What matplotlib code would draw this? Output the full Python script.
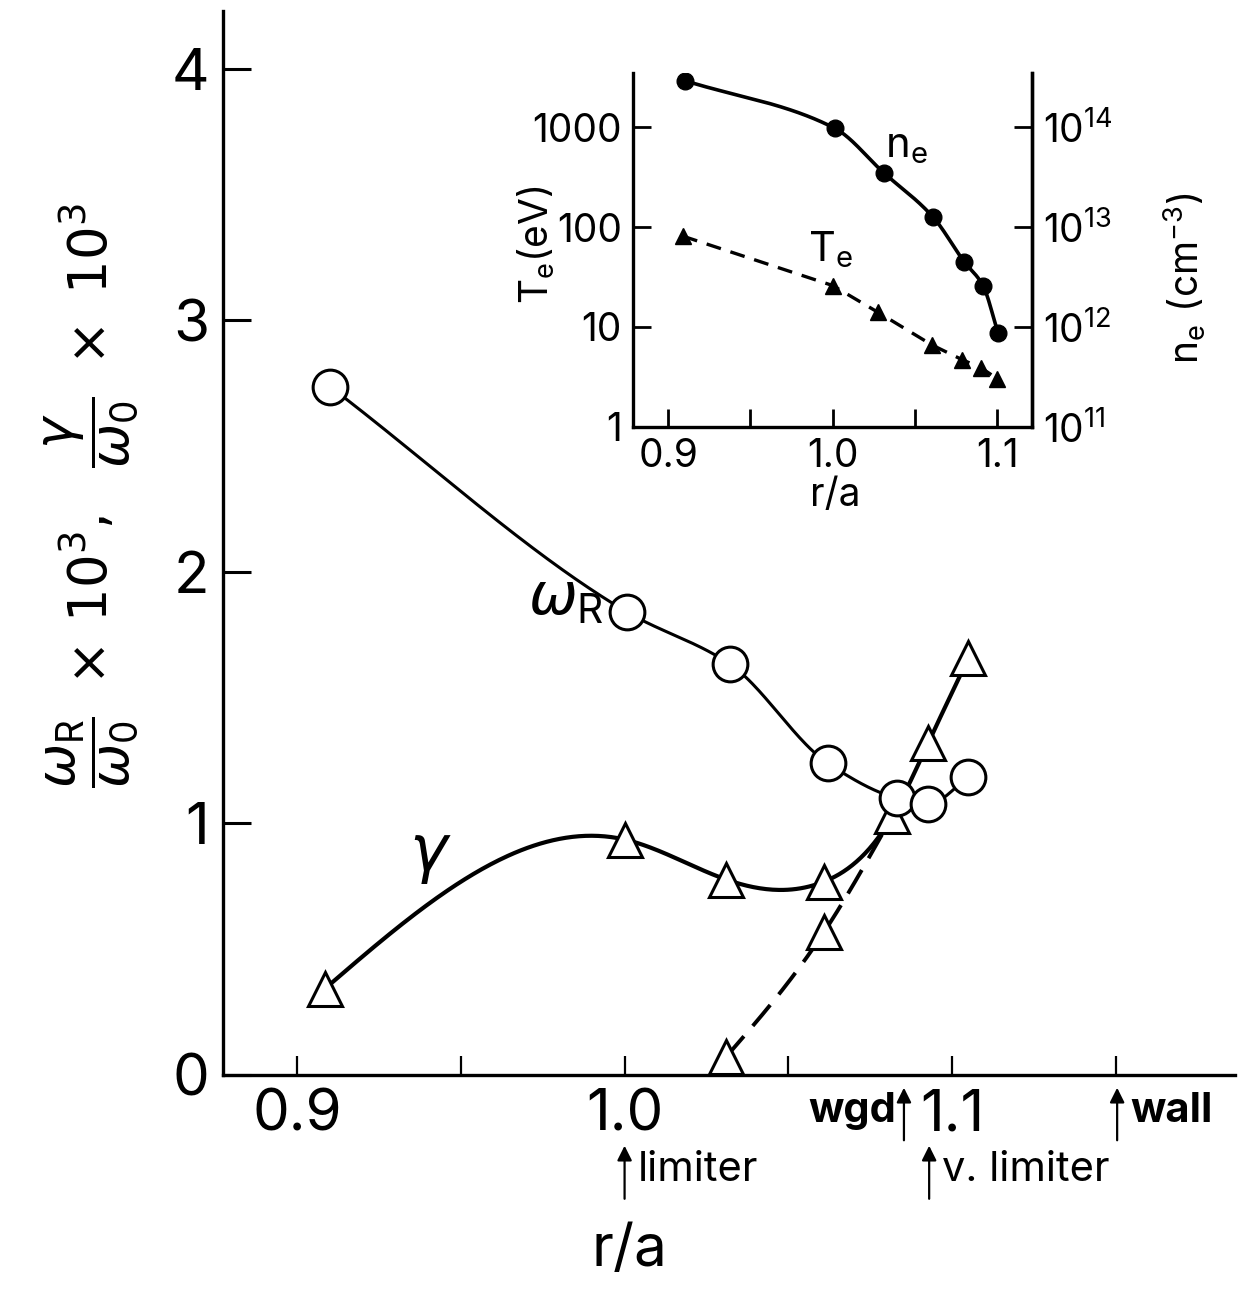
"""Growth rate and real frequency vs r/a, with edge profile inset."""

import matplotlib.pyplot as plt
import numpy as np

# main panel: omega_R / omega_0 x 1e3 (open circles)
wr_x = [0.910, 1.0008, 1.0322, 1.0621, 1.0832, 1.0927, 1.1049]
wr_y = [2.737, 1.84, 1.633, 1.239, 1.10, 1.076, 1.183]

# gamma / omega_0 x 1e3, solid branch (open triangles)
gam_x = [0.9085, 1.0, 1.031, 1.061, 1.0817, 1.0927, 1.105]
gam_y = [0.343, 0.936, 0.777, 0.769, 1.028, 1.319, 1.657]

# gamma, dashed branch
gamd_x = [1.031, 1.061, 1.0817]
gamd_y = [0.072, 0.57, 1.028]

# inset profiles
prof_x = [0.9105, 1.0014, 1.031, 1.0612, 1.080, 1.0914, 1.1006]
ne = [2.9e14, 9.7e13, 3.5e13, 1.25e13, 4.5e12, 2.6e12, 8.7e11]
te_x = [0.909, 1.0, 1.0277, 1.0605, 1.0789, 1.0903, 1.1]
te = [81, 26, 14, 6.6, 4.7, 3.9, 3.05]

main_xticks = [0.9, 0.95, 1.0, 1.05, 1.1, 1.15]
main_xlabels = ["0.9", "", "1.0", "", "1.1", ""]
inset_xticks = [0.9, 0.95, 1.0, 1.05, 1.1]
inset_xlabels = ["0.9", "", "1.0", "", "1.1"]

# boundary markers: (name, r/a, text row)
marks = [("limiter", 1.0, "low"), ("wgd", 1.0853, "high"),
         ("v. limiter", 1.093, "low"), ("wall", 1.1504, "high")]


def spline(x, y, n=300):
    """Natural cubic spline through the points (drawing only)."""
    x = np.asarray(x, float)
    y = np.asarray(y, float)
    h = np.diff(x)
    m = len(x)
    a = np.zeros((m, m))
    b = np.zeros(m)
    a[0, 0] = a[-1, -1] = 1.0
    for i in range(1, m - 1):
        a[i, i - 1] = h[i - 1]
        a[i, i] = 2 * (h[i - 1] + h[i])
        a[i, i + 1] = h[i]
        b[i] = 6 * ((y[i + 1] - y[i]) / h[i] - (y[i] - y[i - 1]) / h[i - 1])
    mm = np.linalg.solve(a, b)
    xs = np.linspace(x[0], x[-1], n)
    k = np.clip(np.searchsorted(x, xs) - 1, 0, m - 2)
    t0 = x[k + 1] - xs
    t1 = xs - x[k]
    ys = (mm[k] * t0**3 + mm[k + 1] * t1**3) / (6 * h[k]) \
        + (y[k] / h[k] - mm[k] * h[k] / 6) * t0 \
        + (y[k + 1] / h[k] - mm[k + 1] * h[k] / 6) * t1
    return xs, ys


def pchip(x, y, n=300):
    """Monotone cubic (Fritsch-Carlson) curve through the points (drawing only)."""
    x = np.asarray(x, float)
    y = np.asarray(y, float)
    h = np.diff(x)
    d = np.diff(y) / h
    m = np.zeros_like(y)
    m[0], m[-1] = d[0], d[-1]
    for i in range(1, len(x) - 1):
        if d[i - 1] * d[i] > 0:
            w1 = 2 * h[i] + h[i - 1]
            w2 = h[i] + 2 * h[i - 1]
            m[i] = (w1 + w2) / (w1 / d[i - 1] + w2 / d[i])
    xs = np.linspace(x[0], x[-1], n)
    k = np.clip(np.searchsorted(x, xs) - 1, 0, len(x) - 2)
    t = (xs - x[k]) / h[k]
    h00 = 2 * t**3 - 3 * t**2 + 1
    h10 = t**3 - 2 * t**2 + t
    h01 = -2 * t**3 + 3 * t**2
    h11 = t**3 - t**2
    ys = h00 * y[k] + h10 * h[k] * m[k] + h01 * y[k + 1] + h11 * h[k] * m[k + 1]
    return xs, ys


plt.rcParams["font.family"] = ["Inter", "DejaVu Sans"]
plt.rcParams["mathtext.fontset"] = "dejavusans"

fig = plt.figure(figsize=(12.42, 12.9), dpi=100)
ax = fig.add_axes([0.1796, 0.1667, 0.8148, 0.8248])

ax.plot(*pchip(wr_x, wr_y), color="k", lw=2.2, zorder=2)
ax.plot(*spline(gam_x, gam_y), color="k", lw=3.0, zorder=2)
ax.plot(*spline(gamd_x, gamd_y), color="k", lw=2.8, ls=(0, (7, 3.5)), zorder=2)
ax.plot(gam_x, gam_y, ls="none", marker="^", ms=25, mfc="white", mec="k", mew=2.2, zorder=3)
ax.plot(gamd_x[:2], gamd_y[:2], ls="none", marker="^", ms=25, mfc="white", mec="k", mew=2.2, zorder=3)
ax.plot(wr_x, wr_y, ls="none", marker="o", ms=25, mfc="white", mec="k", mew=2.2, zorder=4)

ax.text(0.982, 1.89, r"$\omega_{\mathregular{R}}$", fontsize=42, ha="center", va="center")
ax.text(0.9406, 0.868, r"$\gamma$", fontsize=46, ha="center", va="center")

ax.set_xlim(0.8774, 1.1864)
ax.set_ylim(0, 4.23)
ax.set_xticks(main_xticks)
ax.set_xticklabels(main_xlabels)
ax.set_yticks([0, 1, 2, 3, 4])
ax.tick_params(axis="x", direction="in", length=14, width=1.6, labelsize=42, pad=10)
ax.tick_params(axis="y", direction="in", length=20, width=2.2, labelsize=42, pad=10)
for side in ("top", "right"):
    ax.spines[side].set_visible(False)
for side in ("left", "bottom"):
    ax.spines[side].set_linewidth(2.4)

ax.set_ylabel(r"$\dfrac{\omega_{\mathregular{R}}}{\omega_{\mathregular{0}}}\ \times\,10^3,\ \ "
              r"\dfrac{\gamma}{\omega_{\mathregular{0}}}\ \times\ 10^3$", fontsize=38)
ax.yaxis.set_label_coords(-0.082, 0.545)
ax.set_xlabel("r/a", fontsize=42)
ax.xaxis.set_label_coords(0.402, -0.140)

for name, xpos, row in marks:
    if row == "high":
        tip, tail, ty = -0.0094, -0.0640, -0.0335
    else:
        tip, tail, ty = -0.0639, -0.1190, -0.0893
    ax.annotate("", xy=(xpos, tip), xytext=(xpos, tail),
                xycoords=("data", "axes fraction"), textcoords=("data", "axes fraction"),
                arrowprops=dict(arrowstyle="-|>", color="k", lw=1.6, mutation_scale=22))
    weight = "bold" if name in ("wgd", "wall") else "normal"
    if name == "wgd":
        ax.text(xpos - 0.0025, ty, name, fontsize=30, fontweight=weight, ha="right", va="center",
                transform=ax.get_xaxis_transform())
    else:
        ax.text(xpos + 0.004, ty, name, fontsize=30, fontweight=weight, ha="left", va="center",
                transform=ax.get_xaxis_transform())

# inset
ins = fig.add_axes([0.5097, 0.669, 0.3213, 0.2744])
ins.set_yscale("log")
ins.plot(te_x, te, color="k", lw=2.4, ls=(0, (4.5, 3)), marker="^", ms=12, zorder=3)
ins.set_xlim(0.8787, 1.1213)
ins.set_ylim(1, 10**3.54)
ins.set_xticks(inset_xticks)
ins.set_xticklabels(inset_xlabels)
ins.set_yticks([1, 10, 100, 1000])
ins.set_yticklabels(["1", "10", "100", "1000"])
ins.minorticks_off()
ins.tick_params(direction="in", length=13, width=2, labelsize=28, pad=8)
ins.spines["top"].set_visible(False)
for side in ("left", "bottom", "right"):
    ins.spines[side].set_linewidth(2.4)
ins.text(0.9986, 59, r"$\mathregular{T_e}$", fontsize=30, ha="center", va="center")
ins.text(1.045, 630, r"$\mathregular{n_e}$", fontsize=30, ha="center", va="center")
ins.set_ylabel(r"$\mathregular{T_e(eV)}$", fontsize=28)
ins.yaxis.set_label_coords(-0.19, 0.514)
ins.set_xlabel("r/a", fontsize=28)
ins.xaxis.set_label_coords(0.506, -0.14)

rax = ins.twinx()
rax.set_yscale("log")
xs, ys = pchip(prof_x, np.log10(ne))
rax.plot(xs, 10**ys, color="k", lw=2.6)
rax.plot(prof_x, ne, ls="none", marker="o", ms=12, color="k")
rax.set_ylim(1e11, 10**14.54)
rax.set_yticks([1e11, 1e12, 1e13, 1e14])
rax.set_yticklabels([r"$\mathregular{10^{11}}$", r"$\mathregular{10^{12}}$",
                     r"$\mathregular{10^{13}}$", r"$\mathregular{10^{14}}$"])
rax.minorticks_off()
rax.tick_params(direction="in", length=13, width=2, labelsize=28, pad=8)
rax.spines["top"].set_visible(False)
rax.spines["right"].set_linewidth(2.4)
rax.set_ylabel(r"$\mathregular{n_e\ (cm^{-3})}$", fontsize=28)
rax.yaxis.set_label_coords(1.325, 0.42)

fig.savefig("out.png", dpi=100)
